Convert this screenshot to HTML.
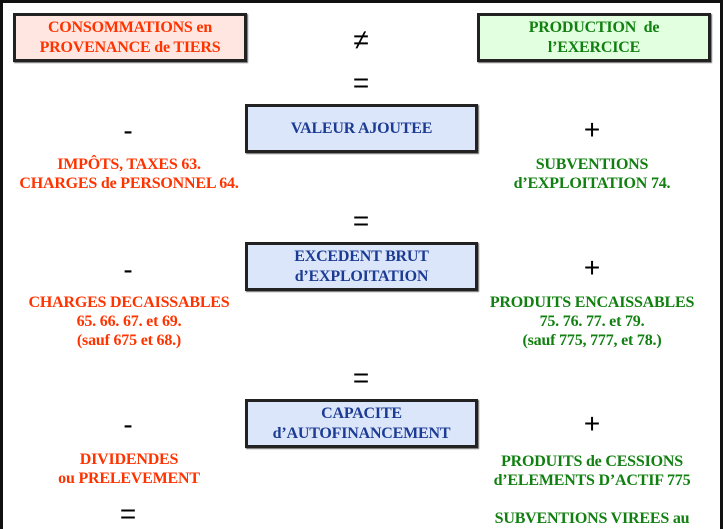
<!DOCTYPE html>
<html style="overflow:hidden;height:529px"><head><meta charset="utf-8"><style>
body{margin:0;width:723px;height:529px;background:#fff;position:relative;overflow:hidden;font-family:"Liberation Serif",serif;font-weight:bold;}
.frame{position:absolute;left:0;top:0;width:717px;height:526px;border:3px solid #111;border-bottom:none;}
.box{position:absolute;border:3px solid #222;box-shadow:1px 1px 1px #666;display:flex;align-items:center;justify-content:center;text-align:center;font-size:16px;line-height:20px;letter-spacing:-0.2px;}
.t{position:absolute;text-align:center;font-size:16px;line-height:19px;letter-spacing:-0.2px;}
.r{color:#ff3300}.g{color:#118011}.b{color:#1c3c94}
.s{position:absolute;font-family:"Liberation Sans",sans-serif;font-weight:normal;font-size:28px;line-height:28px;text-align:center;width:40px;color:#000}
</style></head><body>
<div class="frame"></div>
<div class="box r" style="left:13px;top:13px;width:228px;height:43px;background:#ffe6e0">CONSOMMATIONS en<br>PROVENANCE de TIERS</div>
<div class="box g" style="left:477px;top:13px;width:228px;height:43px;background:#e2ffe0">PRODUCTION&nbsp; de<br>l’EXERCICE</div>
<div class="box b" style="left:245px;top:104px;width:227px;height:43px;background:#dce6fb">VALEUR AJOUTEE</div>
<div class="box b" style="left:245px;top:242px;width:227px;height:43px;background:#dce6fb">EXCEDENT BRUT<br>d’EXPLOITATION</div>
<div class="box b" style="left:245px;top:399px;width:227px;height:43px;background:#dce6fb">CAPACITE<br>d’AUTOFINANCEMENT</div>
<div class="s" style="left:341px;top:26px">≠</div>
<div class="s" style="left:341px;top:69px">=</div>
<div class="s" style="left:108px;top:117px">-</div>
<div class="s" style="left:572px;top:116px">+</div>
<div class="s" style="left:341px;top:207px">=</div>
<div class="s" style="left:108px;top:256px">-</div>
<div class="s" style="left:572px;top:254px">+</div>
<div class="s" style="left:341px;top:364px">=</div>
<div class="s" style="left:108px;top:411px">-</div>
<div class="s" style="left:572px;top:410px">+</div>
<div class="s" style="left:108px;top:500px">=</div>
<div class="t r" style="left:0;width:258px;top:155px">IMPÔTS, TAXES 63.<br>CHARGES de PERSONNEL 64.</div>
<div class="t g" style="left:463px;width:258px;top:155px">SUBVENTIONS<br>d’EXPLOITATION 74.</div>
<div class="t r" style="left:0;width:258px;top:293px">CHARGES DECAISSABLES<br>65. 66. 67. et 69.<br>(sauf 675 et 68.)</div>
<div class="t g" style="left:463px;width:258px;top:293px">PRODUITS ENCAISSABLES<br>75. 76. 77. et 79.<br>(sauf 775, 777, et 78.)</div>
<div class="t r" style="left:0;width:258px;top:450px">DIVIDENDES<br>ou PRELEVEMENT</div>
<div class="t g" style="left:463px;width:258px;top:452px">PRODUITS de CESSIONS<br>d’ELEMENTS D’ACTIF 775</div>
<div class="t g" style="left:463px;width:258px;top:509px">SUBVENTIONS VIREES au</div>
</body></html>
